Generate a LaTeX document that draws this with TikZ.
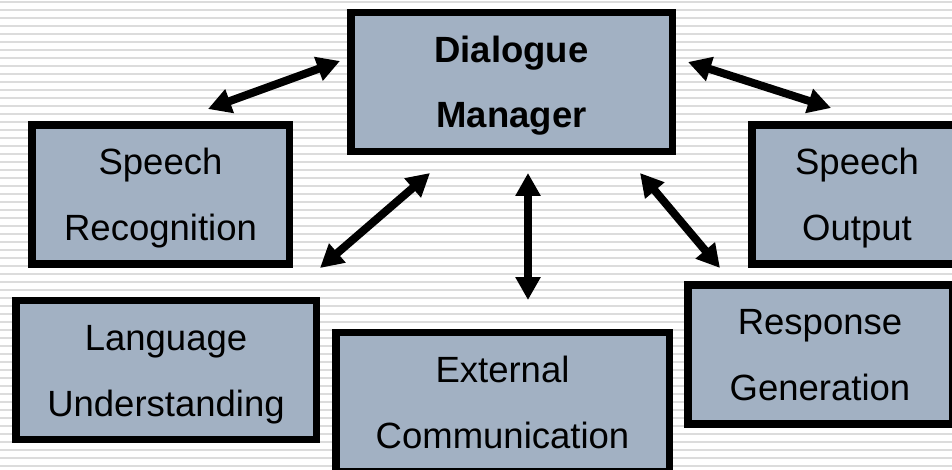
\documentclass[tikz,border=0pt]{standalone}
\usepackage{fontspec}
\setmainfont{Liberation Sans}
\usetikzlibrary{arrows.meta}
\definecolor{boxfill}{HTML}{A2B1C3}
\definecolor{stripe}{HTML}{DCDCDC}
\begin{document}
\begin{tikzpicture}[x=1pt,y=-1pt,
  module/.style={draw=black, line width=7.5pt, fill=boxfill, inner sep=0pt,
    align=center, font=\fontsize{36.5}{66}\selectfont,
    text height=92.1pt, text depth=0pt, minimum height=139pt},
  link/.style={line width=8pt,
    {Triangle[length=23pt,width=24pt]}-{Triangle[length=23pt,width=24pt]}}]
% page and striped background
\useasboundingbox (0,0) rectangle (952,470);
\clip (0,0) rectangle (952,470);
\fill[white] (0,0) rectangle (952,470);
\foreach \k in {0,...,58} \fill[stripe] (0,1+8*\k) rectangle (952,3+8*\k);

% modules
\node[module, minimum width=321.5pt, font=\fontsize{36.5}{65}\bfseries\selectfont,
      text height=91.1pt] (dm) at (511.5,82) {Dialogue\\Manager};
\node[module, minimum width=257.5pt] (sr) at (160.5,194.5) {Speech\\Recognition};
\node[module, minimum width=210.5pt] (so) at (857,194.5) {Speech\\Output};
\node[module, minimum width=300.5pt] (lu) at (166,370) {Language\\Understanding};
\node[module, minimum width=333.5pt] (ec) at (502.5,402) {External\\Communication};
\node[module, minimum width=264.5pt] (rg) at (820,354.5) {Response\\Generation};

% free ends of the two-way links
\coordinate (dm-sr) at (340,61);   \coordinate (sr-dm) at (208,109);
\coordinate (dm-lu) at (430,173);  \coordinate (lu-dm) at (320,268);
\coordinate (dm-ec) at (528,173);  \coordinate (ec-dm) at (528,300);
\coordinate (dm-so) at (688,62);   \coordinate (so-dm) at (831,108);
\coordinate (dm-rg) at (640,173);  \coordinate (rg-dm) at (720,268);

% two-way links
\draw[link] (sr-dm) -- (dm-sr);
\draw[link] (lu-dm) -- (dm-lu);
\draw[link] (ec-dm) -- (dm-ec);
\draw[link] (so-dm) -- (dm-so);
\draw[link] (rg-dm) -- (dm-rg);
\end{tikzpicture}
\end{document}
